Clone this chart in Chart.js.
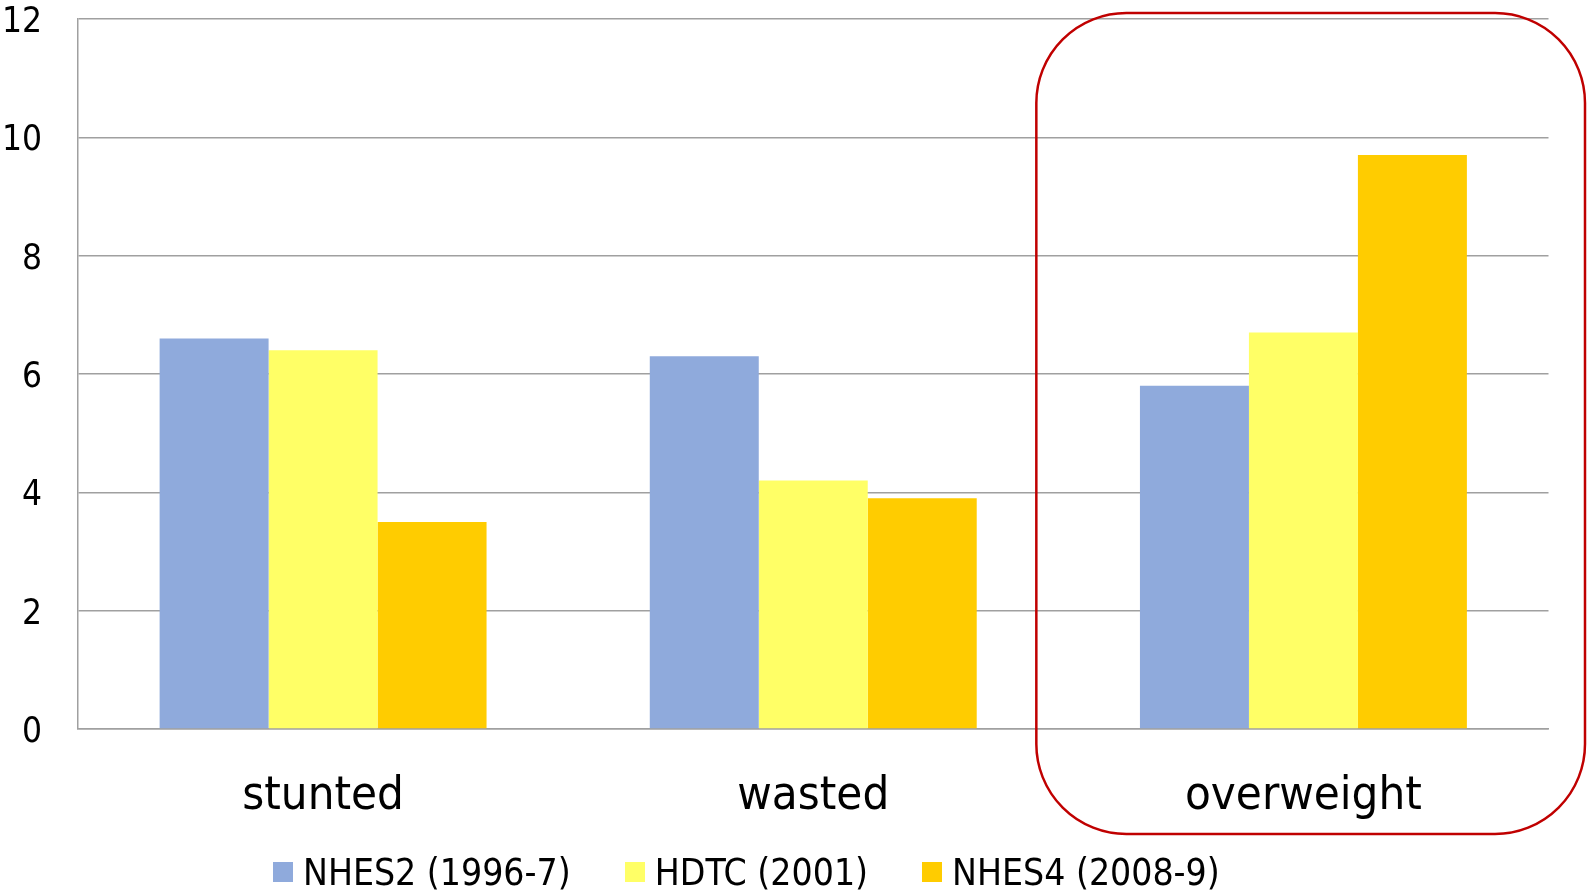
<!DOCTYPE html>
<html>
<head>
<meta charset="utf-8">
<script src="https://cdn.jsdelivr.net/npm/chart.js@4/dist/chart.umd.min.js"></script>
<style>
  html, body { margin: 0; padding: 0; background: #fff; }
  #wrap { position: relative; width: 1587px; height: 896px; }
  #c { position: absolute; left: 0; top: 0; }
  #legend { position: absolute; left: 273px; top: 852px; height: 40px; display: flex; align-items: center;
            font-family: "DejaVu Sans Condensed", "DejaVu Sans", sans-serif; font-stretch: condensed; font-size: 37px; color: #000; white-space: nowrap; }
  .item { display: flex; align-items: center; margin-right: 54px; }
  .box { width: 20px; height: 20px; margin-right: 10px; }
</style>
</head>
<body>
<div id="wrap">
  <canvas id="c" width="1587" height="896"></canvas>
  <div id="legend"></div>
</div>
<script>
const categories = ["stunted", "wasted", "overweight"];
const seriesNames = ["NHES2 (1996-7)", "HDTC (2001)", "NHES4 (2008-9)"];
const nhes2 = [6.6, 6.3, 5.8];
const hdtc = [6.4, 4.2, 6.7];
const nhes4 = [3.5, 3.9, 9.7];
const yTicks = [0, 2, 4, 6, 8, 10, 12];
const colors = ["#8FAADC", "#FFFF66", "#FFCC00"];
const highlightIndex = 2;

const FONT = '"DejaVu Sans Condensed", "DejaVu Sans", sans-serif';

const highlightPlugin = {
  id: 'highlight',
  afterDraw(chart) {
    const xs = chart.scales.x;
    const area = chart.chartArea;
    const half = (xs.getPixelForValue(1) - xs.getPixelForValue(0)) / 2;
    const cx = xs.getPixelForValue(highlightIndex);
    const left = cx - half - 22;
    const right = Math.min(cx + half + 36.5, chart.width - 1.5);
    const top = area.top - 6;
    const bottom = area.bottom + 105;
    const r = 90;
    const ctx = chart.ctx;
    ctx.save();
    ctx.strokeStyle = '#C00000';
    ctx.lineWidth = 2.5;
    ctx.beginPath();
    ctx.roundRect(left, top, right - left, bottom - top, r);
    ctx.stroke();
    ctx.restore();
  }
};

const datasets = [nhes2, hdtc, nhes4].map((d, i) => ({
  label: seriesNames[i],
  data: d,
  backgroundColor: colors[i],
  borderWidth: 0,
  barPercentage: 1.0,
  categoryPercentage: 0.667
}));

new Chart(document.getElementById('c'), {
  type: 'bar',
  data: { labels: categories, datasets },
  options: {
    responsive: false,
    animation: false,
    layout: { padding: { top: 19, right: 38.5, left: 0, bottom: 0 } },
    plugins: { legend: { display: false }, tooltip: { enabled: false } },
    scales: {
      x: {
        grid: { display: false, drawTicks: false },
        border: { display: true, color: '#A0A0A0', width: 1.5 },
        ticks: { color: '#000', padding: 40, font: { family: FONT, size: 47, lineHeight: 1.2 } },
        afterFit(s) { s.height = 167; }
      },
      y: {
        min: 0, max: 12,
        afterBuildTicks(s) { s.ticks = yTicks.map(v => ({ value: v })); },
        grid: { color: '#A0A0A0', lineWidth: 1.5, drawTicks: false },
        border: { display: true, color: '#A0A0A0', width: 1.5 },
        ticks: { color: '#000', padding: 36, labelOffset: 4, font: { family: FONT, size: 35, lineHeight: 1 } },
        afterFit(s) { s.width = 78; s.paddingTop = 0; s.paddingBottom = 0; }
      }
    }
  },
  plugins: [highlightPlugin]
});

const lg = document.getElementById('legend');
seriesNames.forEach((n, i) => {
  const it = document.createElement('div'); it.className = 'item';
  const b = document.createElement('div'); b.className = 'box'; b.style.background = colors[i];
  const t = document.createElement('span'); t.textContent = n;
  it.appendChild(b); it.appendChild(t); lg.appendChild(it);
});
</script>
</body>
</html>
